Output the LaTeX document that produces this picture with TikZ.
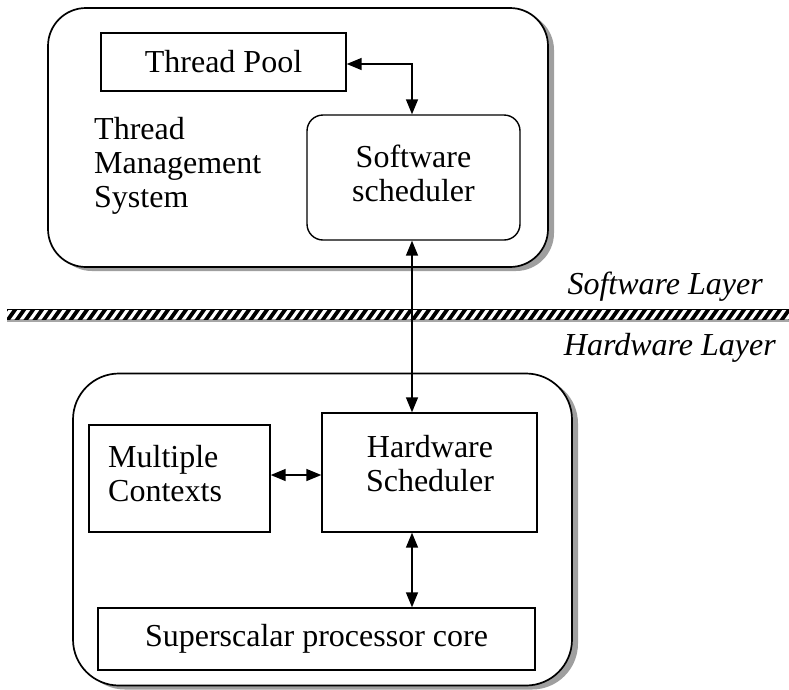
\documentclass[tikz,border=0pt]{standalone}
\usepackage{fontspec}
\setmainfont{Liberation Serif}
\usetikzlibrary{arrows.meta,shadows}
\tikzset{
  outerbox/.style={draw, line width=1.7pt, fill=white, inner sep=0pt,
    drop shadow={shadow xshift=6pt, shadow yshift=-4pt, fill=gray!75, opacity=1}},
  plainbox/.style={draw, line width=1.4pt, fill=white, inner sep=0pt},
  txt/.style={inner sep=0pt, font=\fontsize{32}{34}\selectfont},
  layertxt/.style={inner sep=0pt, font=\fontsize{32}{34}\selectfont\itshape},
  biarrow/.style={line width=1.5pt, arrows={Triangle[length=15pt,width=12pt]-Triangle[length=15pt,width=12pt]}}
}
\begin{document}
\begin{tikzpicture}[x=1pt,y=-1pt]
\useasboundingbox (0,0) rectangle (789,689);
% outer boxes
\node[outerbox, rounded corners=38pt, minimum width=500pt, minimum height=259pt] (sw) at (298,137.5) {};
\node[outerbox, rounded corners=46pt, minimum width=499pt, minimum height=312pt] (hw) at (322.5,529.5) {};
% software layer
\node[plainbox, minimum width=245pt, minimum height=58pt, txt] (tp) at (223.5,62) {Thread Pool};
\node[plainbox, rounded corners=16pt, minimum width=213pt, minimum height=125pt] (ss) at (413.5,177.5) {};
\node[txt, align=center] (sstext) at (413.5,173) {Software\\scheduler};
\node[txt, align=left, anchor=west] (tms) at (94,166) {Thread\\Management\\System};
\coordinate (tpc) at (412,64);
% hatched bar
\fill[gray!70] (7,318) rectangle (789,322);
\begin{scope}
  \clip (7,309) rectangle (789,319);
  \fill[white] (7,309) rectangle (789,319);
  \foreach \i in {0,...,90} {
    \draw[line width=3.8pt] (\i*9-2,321) -- (\i*9+8,307);
  }
\end{scope}
\draw[line width=1pt] (7,309.5) -- (789,309.5);
\node[layertxt, anchor=east] (swl) at (763,287) {Software Layer};
\node[layertxt, anchor=east] (hwl) at (776,348) {Hardware Layer};
% hardware layer
\node[plainbox, minimum width=181pt, minimum height=107pt] (mc) at (179.5,478.5) {};
\node[txt, align=left, anchor=west] (mctext) at (108,474) {Multiple\\Contexts};
\node[plainbox, minimum width=215pt, minimum height=119pt] (hs) at (429.5,472.5) {};
\node[txt, align=center] (hstext) at (430,464) {Hardware\\Scheduler};
\node[plainbox, minimum width=437pt, minimum height=62pt, txt] (sp) at (316.5,639) {Superscalar processor core};
% connectors
\draw[biarrow] (tp.east |- tpc) -- (tpc) -- (ss.north -| tpc);
\draw[biarrow] (ss.south -| tpc) -- (hs.north -| tpc);
\draw[biarrow] (mc.east |- 0,475) -- (hs.west |- 0,475);
\draw[biarrow] (hs.south -| tpc) -- (sp.north -| tpc);
\end{tikzpicture}
\end{document}
